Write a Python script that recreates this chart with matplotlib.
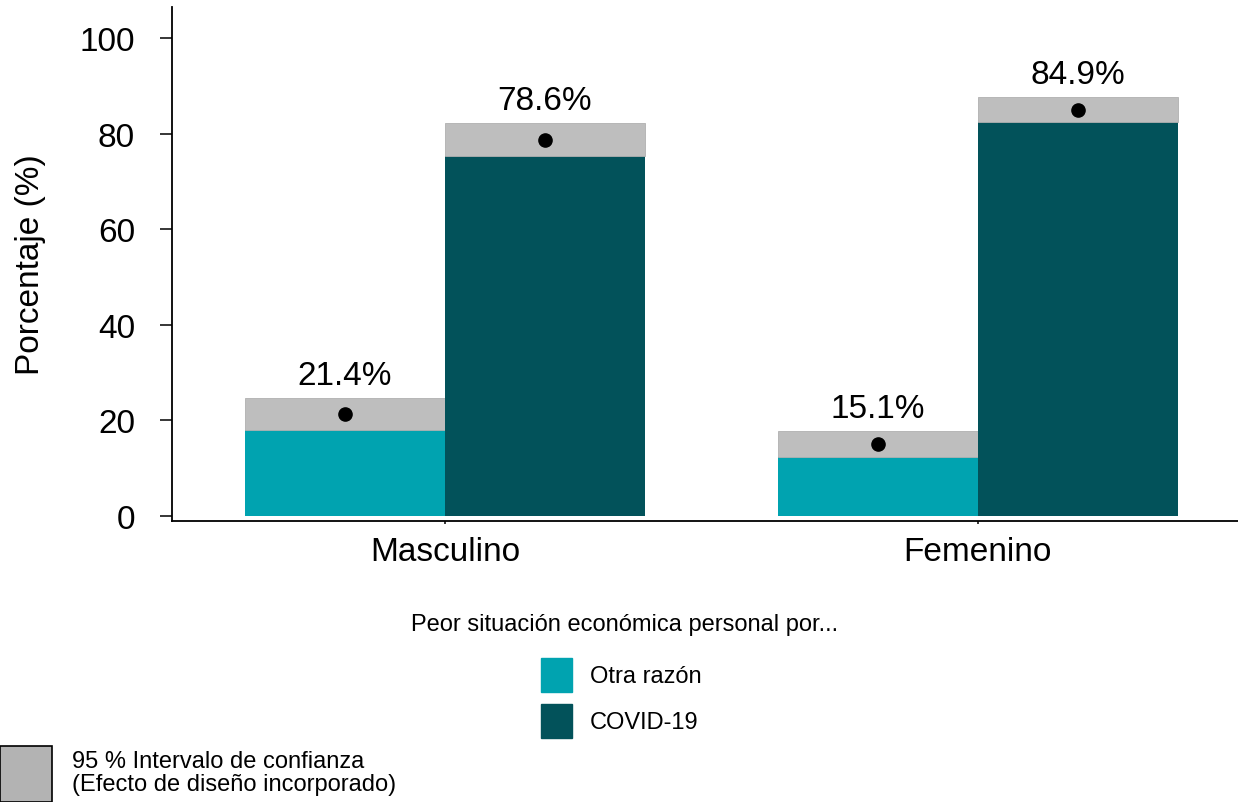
import matplotlib.pyplot as plt
from matplotlib.patches import Rectangle

plt.rcParams["font.family"] = ["Liberation Sans", "DejaVu Sans"]

groups = ["Masculino", "Femenino"]
series = ["Otra razón", "COVID-19"]
estimates = {"Otra razón": [21.4, 15.1], "COVID-19": [78.6, 84.9]}
ci_low = {"Otra razón": [17.9, 12.3], "COVID-19": [75.4, 82.4]}
ci_high = {"Otra razón": [24.7, 17.7], "COVID-19": [82.2, 87.7]}
colors = {"Otra razón": "#00a3b0", "COVID-19": "#02525a"}
yticks = [0, 20, 40, 60, 80, 100]

W, H = 1238, 803
fig = plt.figure(figsize=(W / 100, H / 100), dpi=100)
ax = fig.add_axes([172 / W, (H - 522) / H, 1 - 172 / W, (522 - 8) / H])

width = 0.375
offsets = [-width / 2, width / 2]
xpos = [1, 2]

for s, off in zip(series, offsets):
    for i, x in enumerate(xpos):
        xc = x + off
        lo, hi, est = ci_low[s][i], ci_high[s][i], estimates[s][i]
        ax.bar(xc, lo, width=width, color=colors[s], linewidth=0)
        ax.bar(xc, hi - lo, bottom=lo, width=width, color="#bebebe",
               edgecolor="#b0b0b0", linewidth=0.6)
        ax.plot(xc, est, "o", color="black", markersize=9.5)
        ax.annotate(f"{est}%", (xc, hi), xytext=(0, 5), textcoords="offset points",
                    ha="center", va="bottom", fontsize=24)

ax.set_xlim(0.488, 2.488)
ax.set_ylim(-1.05, 106.5)
ax.set_yticks(yticks)
ax.set_xticks(xpos)
ax.set_xticklabels(groups, fontsize=24)
ax.tick_params(axis="y", labelsize=24, length=8.6, width=1.1, pad=18)
ax.tick_params(axis="x", length=2, width=1.1, pad=9)
for side in ["top", "right"]:
    ax.spines[side].set_visible(False)
for side in ["left", "bottom"]:
    ax.spines[side].set_linewidth(1.3)
ax.set_ylabel("Porcentaje (%)", fontsize=24, labelpad=24)

# legend
fig.text(625 / W, 1 - 625 / H, "Peor situación económica personal por...",
         ha="center", va="center", fontsize=17)
for s, y0 in zip(series, [659, 705]):
    fig.patches.append(Rectangle((541 / W, 1 - (y0 + 34) / H), 31 / W, 34 / H,
                                 transform=fig.transFigure, color=colors[s]))
    fig.text(590 / W, 1 - (y0 + 18) / H, s, ha="left", va="center", fontsize=17)

fig.patches.append(Rectangle((0, 0), 52 / W, 56 / H, transform=fig.transFigure,
                             facecolor="#b3b3b3", edgecolor="black", linewidth=1.2))
fig.text(72 / W, 1 - 762 / H, "95 % Intervalo de confianza", ha="left", va="center", fontsize=17)
fig.text(72 / W, 1 - 785 / H, "(Efecto de diseño incorporado)", ha="left", va="center", fontsize=17)

fig.savefig("out.png", dpi=100)
